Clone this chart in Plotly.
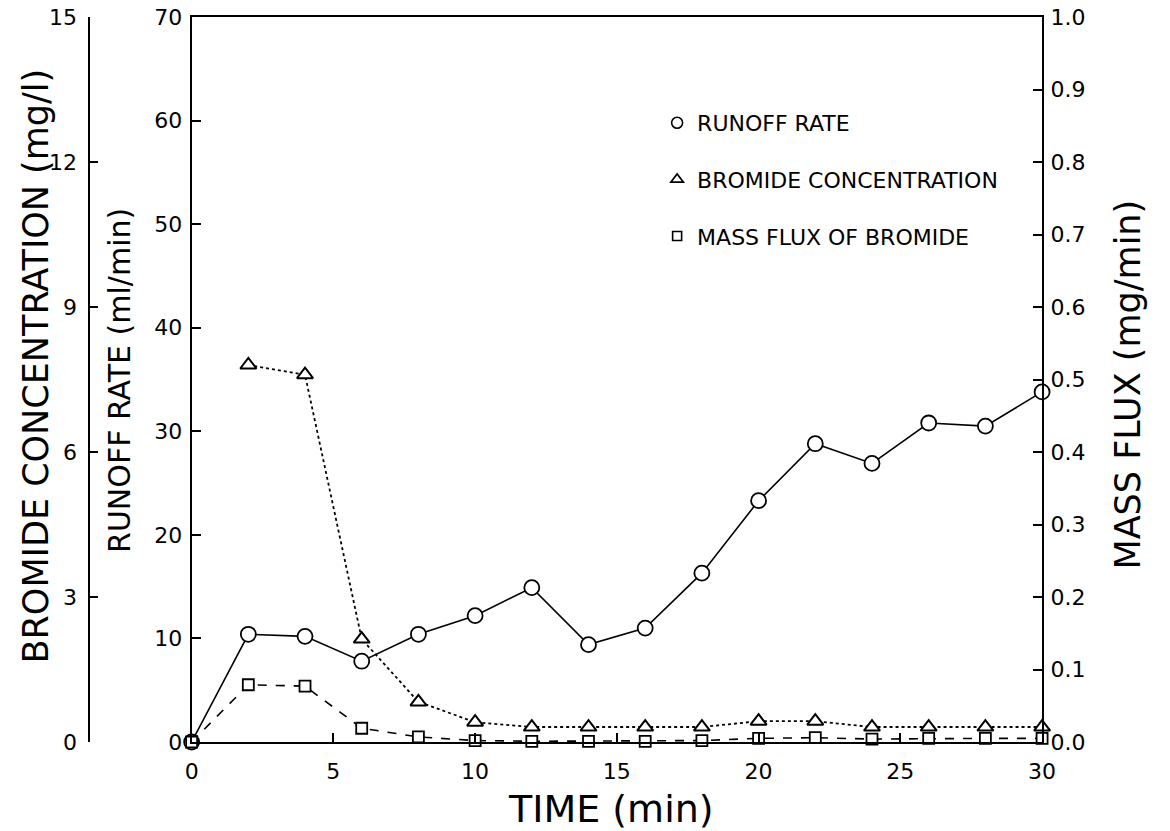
import plotly.graph_objects as go

# Sampling times (min)
time = [0, 2, 4, 6, 8, 10, 12, 14, 16, 18, 20, 22, 24, 26, 28, 30]

# Runoff rate (ml/min)
runoff_rate = [0, 10.4, 10.2, 7.8, 10.4, 12.2, 14.9, 9.4, 11.0, 16.3,
               23.3, 28.8, 26.9, 30.8, 30.5, 33.8]

# Bromide concentration (mg/l), first sample at 2 min
conc_time = [2, 4, 6, 8, 10, 12, 14, 16, 18, 20, 22, 24, 26, 28, 30]
bromide_conc = [7.8, 7.6, 2.13, 0.83, 0.41, 0.31, 0.31, 0.31, 0.31,
                0.43, 0.43, 0.31, 0.31, 0.31, 0.31]

# Mass flux of bromide (mg/min)
mass_flux = [0, 0.079, 0.077, 0.019, 0.007, 0.002, 0.001, 0.001, 0.001,
             0.002, 0.005, 0.006, 0.004, 0.005, 0.005, 0.005]

legend_names = ["RUNOFF RATE", "BROMIDE CONCENTRATION", "MASS FLUX OF BROMIDE"]

FONT = "DejaVu Sans"
W, H = 1170, 831
X0, X1 = 188, 1054          # plot area in pixels
TOP, BOTTOM = 17, 742


def px_x(p):
    return p / W


def px_y(p):
    return (BOTTOM - p) / (BOTTOM - TOP)


fig = go.Figure()

fig.add_trace(go.Scatter(
    x=time, y=runoff_rate, mode="lines+markers", yaxis="y",
    line=dict(color="black", width=1.6, dash="solid"),
    marker=dict(symbol="circle", size=15, color="white",
                line=dict(color="black", width=1.8)),
    cliponaxis=False, showlegend=False,
))

fig.add_trace(go.Scatter(
    x=conc_time, y=bromide_conc, mode="lines+markers", yaxis="y2",
    line=dict(color="black", width=1.8, dash="dot"),
    marker=dict(symbol="triangle-up", size=14, color="white",
                line=dict(color="black", width=2)),
    cliponaxis=False, showlegend=False,
))

fig.add_trace(go.Scatter(
    x=time, y=mass_flux, mode="lines+markers", yaxis="y3",
    line=dict(color="black", width=1.6, dash="dash"),
    marker=dict(symbol="square", size=11, color="white",
                line=dict(color="black", width=1.8)),
    cliponaxis=False, showlegend=False,
))

# legend entries: symbol only, no line sample
for name, sym, size in zip(legend_names,
                           ["circle-open", "triangle-up-open", "square-open"],
                           [11, 11, 9]):
    fig.add_trace(go.Scatter(
        x=[None], y=[None], mode="markers", name=name, legendgroup=name,
        marker=dict(symbol=sym, size=size, color="black",
                    line=dict(color="black", width=1.6)),
    ))

tick_font = dict(family=FONT, size=22, color="black")

fig.update_layout(
    width=W, height=H,
    margin=dict(l=0, r=0, t=TOP, b=H - BOTTOM),
    paper_bgcolor="white", plot_bgcolor="white",
    font=dict(family=FONT, color="black"),
    xaxis=dict(
        domain=[px_x(X0), px_x(X1)], range=[0, 30],
        tickvals=[0, 5, 10, 15, 20, 25, 30],
        ticks="inside", ticklen=9, tickwidth=2, tickcolor="black",
        showline=True, linewidth=2, linecolor="black", mirror=True,
        showgrid=False, zeroline=False, tickfont=tick_font,
        ticklabelstandoff=9,
    ),
    yaxis=dict(
        range=[0, 70], tickvals=[0, 10, 20, 30, 40, 50, 60, 70],
        ticks="inside", ticklen=9, tickwidth=2, tickcolor="black",
        showline=True, linewidth=2, linecolor="black",
        showgrid=False, zeroline=False, tickfont=tick_font,
        ticklabelstandoff=3,
    ),
    yaxis2=dict(
        overlaying="y", anchor="free", position=px_x(83), side="left",
        range=[0, 15], tickvals=[0, 3, 6, 9, 12, 15],
        ticks="inside", ticklen=8, tickwidth=2, tickcolor="black",
        showline=True, linewidth=2, linecolor="black",
        showgrid=False, zeroline=False, tickfont=tick_font,
        ticklabelstandoff=6,
    ),
    yaxis3=dict(
        overlaying="y", anchor="x", side="right",
        range=[0, 1.0], tickvals=[i / 10 for i in range(11)],
        tickformat=".1f",
        ticks="inside", ticklen=9, tickwidth=2, tickcolor="black",
        showline=True, linewidth=2, linecolor="black",
        showgrid=False, zeroline=False, tickfont=tick_font,
        ticklabelstandoff=2,
    ),
    legend=dict(
        x=px_x(662), y=px_y(102), xanchor="left", yanchor="top",
        font=dict(family=FONT, size=22, color="black"),
        bgcolor="rgba(0,0,0,0)", tracegroupgap=25,
        itemclick=False, itemdoubleclick=False,
    ),
    showlegend=True,
)

axis_titles = [
    ("BROMIDE CONCENTRATION (mg/l)", 30, 366, 35),
    ("RUNOFF RATE (ml/min)", 114, 380, 30),
    ("MASS FLUX (mg/min)", 1141, 385, 35),
]
for text, cx, cy, size in axis_titles:
    fig.add_annotation(
        text=text, xref="paper", yref="paper", x=px_x(cx), y=px_y(cy),
        xanchor="center", yanchor="middle", textangle=-90, showarrow=False,
        font=dict(family=FONT, size=size, color="black"),
    )

fig.add_annotation(
    text="TIME (min)", xref="paper", yref="paper", x=px_x(615), y=px_y(809),
    xanchor="center", yanchor="middle", showarrow=False,
    font=dict(family=FONT, size=38, color="black"),
)

fig.write_html("out.html")
